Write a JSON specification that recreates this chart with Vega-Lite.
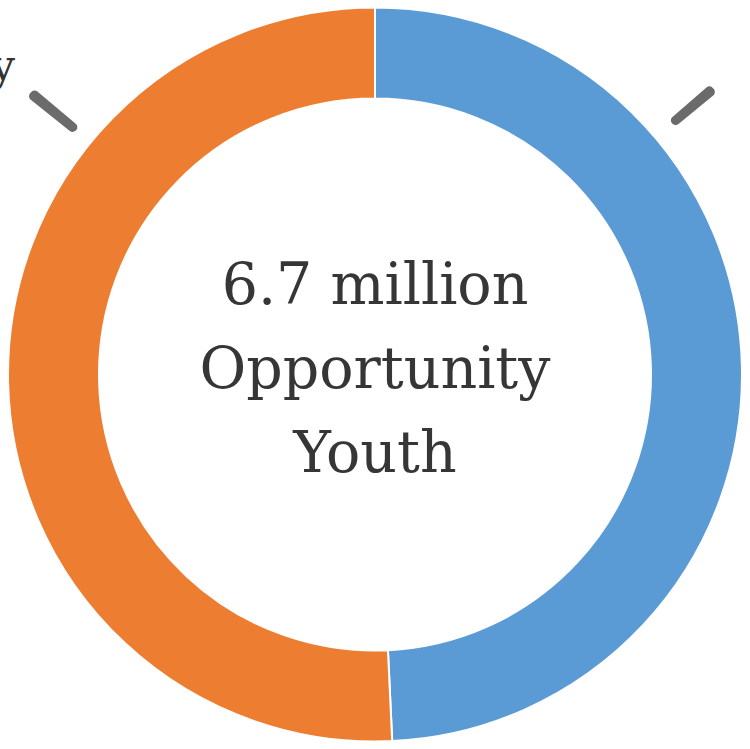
{
  "$schema": "https://vega.github.io/schema/vega-lite/v6.json",
  "width": 750,
  "height": 749,
  "autosize": {"type": "none"},
  "padding": 0,
  "background": "white",
  "config": {"view": {"stroke": null}},
  "layer": [
    {
      "data": {"values": [
        {"group": "Under-attached", "millions": 3.3, "order": 1},
        {"group": "Chronically disconnected", "millions": 3.4, "order": 2}
      ]},
      "mark": {"type": "arc", "innerRadius": 276, "outerRadius": 367, "stroke": "white", "strokeWidth": 2},
      "encoding": {
        "theta": {"field": "millions", "type": "quantitative", "stack": true},
        "order": {"field": "order", "type": "quantitative"},
        "color": {"field": "group", "type": "nominal", "legend": null,
          "scale": {"domain": ["Under-attached", "Chronically disconnected"], "range": ["#5b9bd5", "#ed7d31"]}}
      }
    },
    {
      "data": {"values": [{"tick": "left"}]},
      "mark": {"type": "arc", "theta": 5.386, "theta2": 5.410, "innerRadius": 386, "outerRadius": 445, "cornerRadius": 4.5, "color": "#6b6b6b"},
      "encoding": {}
    },
    {
      "data": {"values": [{"tick": "right"}]},
      "mark": {"type": "arc", "theta": 0.857, "theta2": 0.881, "innerRadius": 389, "outerRadius": 443, "cornerRadius": 4.5, "color": "#6b6b6b"},
      "encoding": {}
    },
    {
      "data": {"values": [{"label": "Chronically"}]},
      "mark": {"type": "text", "theta": 5.398, "radius": 465, "align": "right", "baseline": "alphabetic", "font": "DejaVu Serif", "fontSize": 42, "color": "#333333"},
      "encoding": {"text": {"field": "label", "type": "nominal"}}
    },
    {
      "data": {"values": [{"label": "Under-attached"}]},
      "mark": {"type": "text", "theta": 1.012, "radius": 442, "align": "left", "baseline": "alphabetic", "font": "DejaVu Serif", "fontSize": 42, "color": "#333333"},
      "encoding": {"text": {"field": "label", "type": "nominal"}}
    },
    {
      "data": {"values": [{"line1": "6.7 million", "line2": "Opportunity", "line3": "Youth"}]},
      "mark": {"type": "text", "theta": 0, "radius": 0, "align": "center", "baseline": "middle", "dy": -88, "lineHeight": 84, "font": "DejaVu Serif", "fontSize": 57, "color": "#363636"},
      "encoding": {"text": {"value": ["6.7 million", "Opportunity", "Youth"]}}
    }
  ]
}
